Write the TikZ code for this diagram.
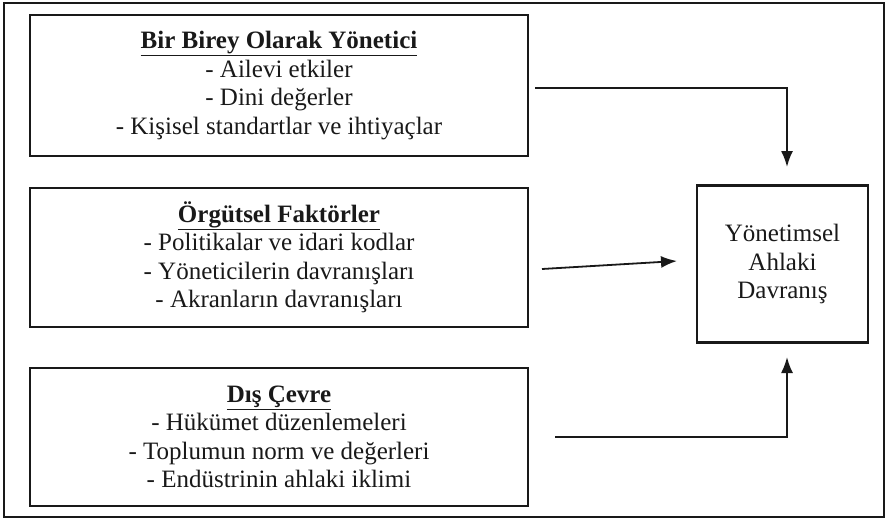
\documentclass[tikz,border=0pt]{standalone}
\usepackage{fontspec}
\setmainfont{Liberation Serif}
\usetikzlibrary{arrows.meta}
\begin{document}
\begin{tikzpicture}[x=1pt,y=-1pt,
  frame/.style={draw=black!90, line width=2.2pt},
  box/.style={draw=black!90, line width=2.4pt, align=center, inner sep=0pt,
    font=\fontsize{25}{28.5}\selectfont, text=black!90},
  arr/.style={draw=black!90, line width=1.8pt, -{Latex[length=16pt,width=12pt]}}]
\useasboundingbox (0,0) rectangle (888,520);
\node[frame, minimum width=880pt, minimum height=514pt, inner sep=0pt] (fr) at (444,260) {};
\node[box, minimum width=498pt, minimum height=141pt] (b1) at (279,85.5)
  {\textbf{\underline{Bir Birey Olarak Yönetici}}\\- Ailevi etkiler\\- Dini değerler\\- Kişisel standartlar ve ihtiyaçlar};
\node[box, minimum width=498pt, minimum height=139pt] (b2) at (279,257.5)
  {\textbf{\underline{Örgütsel Faktörler}}\\- Politikalar ve idari kodlar\\- Yöneticilerin davranışları\\- Akranların davranışları};
\node[box, minimum width=498pt, minimum height=138pt] (b3) at (279,437)
  {\textbf{\underline{Dış Çevre}}\\- Hükümet düzenlemeleri\\- Toplumun norm ve değerleri\\- Endüstrinin ahlaki iklimi};
\node[box, minimum width=171pt, minimum height=157pt] (r) at (782.5,264)
  {Yönetimsel\\Ahlaki\\Davranış};
\coordinate (s1) at (535,88);
\coordinate (e1) at (787,167);
\coordinate (s2) at (542,269);
\coordinate (e2) at (677,261);
\coordinate (s3) at (555,437);
\coordinate (e3) at (787,357);
\draw[arr] (s1) -| (e1);
\draw[arr] (s2) -- (e2);
\draw[arr] (s3) -| (e3);
\end{tikzpicture}
\end{document}
